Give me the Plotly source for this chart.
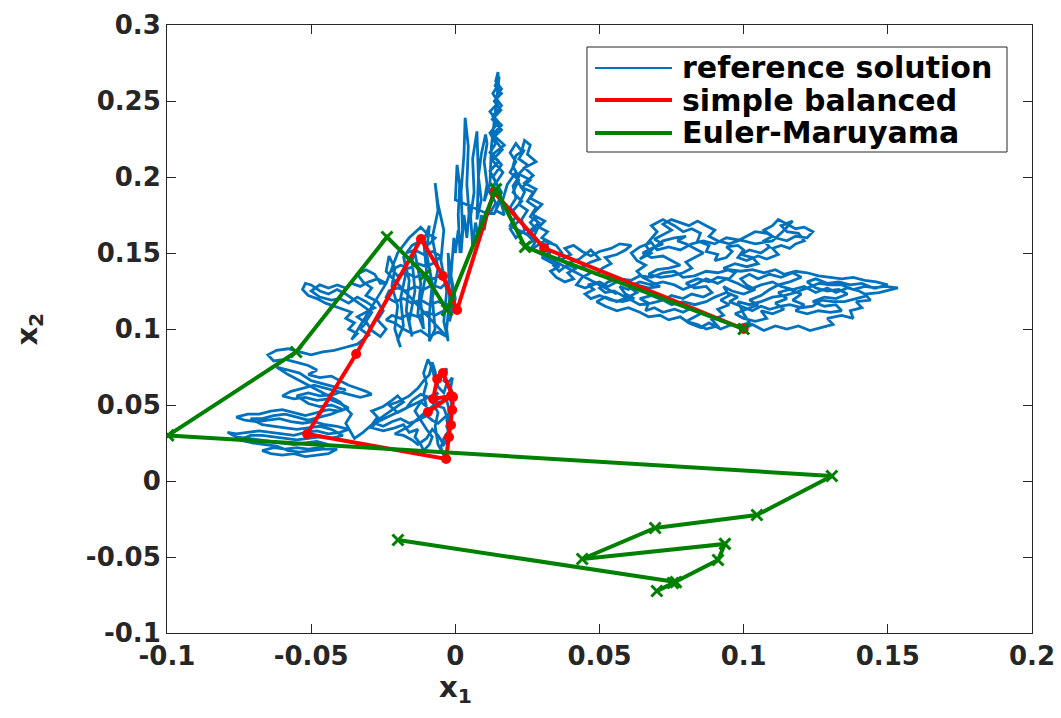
import plotly.graph_objects as go

# ---------------- data ----------------
# reference solution (fine path) as (x1, x2) pairs, stored piece by piece
ref_right_a = [
    (0.100,0.100),(0.096,0.103),(0.092,0.100),(0.088,0.104),(0.085,0.101),(0.081,0.104),(0.078,0.108),(0.074,0.106),
    (0.071,0.109),(0.067,0.108),(0.064,0.111),(0.060,0.114),(0.056,0.112),(0.052,0.115),(0.049,0.118),(0.052,0.121),
    (0.056,0.118),(0.060,0.121),(0.063,0.124),(0.060,0.128),(0.064,0.131),(0.068,0.129),(0.072,0.131),(0.076,0.129),
    (0.079,0.126),(0.083,0.129),(0.087,0.133),(0.091,0.130),(0.094,0.133),(0.098,0.130),(0.102,0.126),(0.106,0.129),
    (0.110,0.131),(0.113,0.128),(0.117,0.126),(0.121,0.128),(0.125,0.124),(0.129,0.127),(0.132,0.124),(0.136,0.127),
    (0.140,0.125),(0.143,0.122),(0.139,0.120),(0.135,0.118),(0.131,0.118),(0.127,0.119),(0.124,0.115),(0.120,0.114),
    (0.116,0.116),(0.113,0.115),(0.109,0.113),(0.106,0.115),(0.103,0.112),(0.099,0.115),(0.095,0.118),(0.098,0.121),
    (0.094,0.124),(0.090,0.121),(0.087,0.118),(0.083,0.116),(0.079,0.118),(0.075,0.116),(0.072,0.119),(0.068,0.117),
    (0.064,0.116),(0.061,0.119),(0.058,0.122),(0.055,0.125),(0.052,0.124),(0.050,0.127),(0.053,0.131),(0.057,0.133),
    (0.061,0.132),(0.064,0.135),(0.068,0.134),(0.072,0.137),(0.076,0.138),(0.079,0.134),(0.083,0.135),(0.087,0.138),
    (0.091,0.137),(0.095,0.139),(0.099,0.138),(0.103,0.139),(0.107,0.137),(0.111,0.139),(0.114,0.136),(0.118,0.138),
    (0.122,0.137),(0.126,0.135),(0.130,0.134),(0.134,0.133),(0.138,0.134),(0.142,0.132),(0.146,0.131),(0.150,0.129),
    (0.146,0.127),(0.142,0.128),(0.138,0.126),(0.134,0.129),(0.130,0.129),(0.126,0.130),(0.122,0.127),(0.118,0.124),
    (0.114,0.122),(0.110,0.121),(0.106,0.118),(0.102,0.116),(0.098,0.118),(0.100,0.110),(0.102,0.104),(0.098,0.102),
]
ref_right_b = [
    (0.100,0.100),(0.103,0.103),(0.107,0.099),(0.111,0.102),(0.115,0.100),(0.119,0.102),(0.123,0.099),(0.127,0.101),
    (0.131,0.103),(0.129,0.107),(0.134,0.109),(0.138,0.107),(0.137,0.112),(0.141,0.114),(0.139,0.118),(0.144,0.119),
    (0.142,0.123),(0.147,0.124),(0.151,0.126),(0.1535,0.127),(0.149,0.128),(0.145,0.127),(0.141,0.130),(0.137,0.129),
    (0.133,0.131),(0.129,0.130),(0.125,0.133),(0.122,0.131),(0.125,0.127),(0.129,0.125),(0.133,0.126),(0.136,0.123),
    (0.132,0.120),(0.128,0.121),(0.124,0.118),(0.128,0.115),(0.132,0.116),(0.134,0.112),(0.130,0.111),(0.126,0.112),
    (0.122,0.110),(0.118,0.112),(0.121,0.116),(0.117,0.119),(0.120,0.123),(0.116,0.126),(0.112,0.124),(0.115,0.120),
    (0.111,0.117),(0.114,0.113),(0.110,0.110),(0.106,0.112),(0.108,0.107),(0.104,0.105),(0.100,0.107),(0.097,0.110),
    (0.101,0.113),(0.105,0.116),(0.102,0.119),(0.106,0.122),(0.109,0.126),(0.112,0.129),(0.116,0.131),(0.120,0.134),
    (0.117,0.137),(0.113,0.134),(0.109,0.136),(0.105,0.133),(0.102,0.136),(0.099,0.133),(0.101,0.129),(0.104,0.126),
    (0.100,0.123),(0.096,0.125),(0.093,0.128),(0.095,0.122),(0.092,0.119),(0.095,0.116),(0.091,0.113),(0.093,0.109),
    (0.089,0.106),(0.091,0.102),(0.087,0.100),(0.084,0.103),(0.080,0.105),(0.083,0.108),(0.086,0.111),(0.082,0.114),
    (0.079,0.111),(0.076,0.113),(0.072,0.111),(0.069,0.114),(0.066,0.112),(0.067,0.117),(0.064,0.120),(0.068,0.122),
    (0.072,0.119),(0.075,0.122),(0.079,0.120),(0.082,0.123),(0.086,0.121),(0.089,0.124),(0.087,0.128),(0.083,0.127),
    (0.080,0.130),(0.084,0.133),(0.088,0.131),(0.091,0.134),(0.095,0.133),(0.097,0.137),(0.093,0.140),(0.097,0.143),
    (0.101,0.141),(0.105,0.143),(0.103,0.147),(0.099,0.149),(0.102,0.152),(0.106,0.150),(0.109,0.154),(0.107,0.158),
    (0.110,0.161),(0.107,0.165),(0.110,0.168),(0.112,0.172),(0.115,0.169),(0.118,0.166),(0.121,0.167),(0.124,0.164),
    (0.122,0.160),(0.118,0.161),(0.115,0.158),(0.111,0.160),(0.108,0.163),(0.104,0.164),(0.101,0.161),(0.098,0.158),
    (0.095,0.156),(0.091,0.158),(0.088,0.161),(0.090,0.165),(0.087,0.168),(0.084,0.171),(0.081,0.168),(0.078,0.170),
    (0.075,0.172),(0.072,0.169),(0.075,0.165),(0.072,0.162),(0.069,0.159),(0.072,0.156),(0.068,0.153),(0.065,0.150),
    (0.068,0.147),(0.072,0.148),(0.075,0.145),(0.078,0.142),(0.074,0.140),(0.070,0.139),(0.067,0.136),(0.071,0.134),
    (0.075,0.135),(0.079,0.137),(0.082,0.140),(0.080,0.144),(0.083,0.147),(0.086,0.150),(0.083,0.153),(0.080,0.156),
    (0.077,0.158),(0.080,0.161),(0.076,0.160),(0.072,0.158),
]
ref_right_c = [
    (0.064,0.146),(0.068,0.150),(0.066,0.155),(0.070,0.164),(0.068,0.168),(0.072,0.172),(0.076,0.168),(0.079,0.164),
    (0.082,0.166),(0.085,0.163),(0.084,0.158),(0.088,0.155),(0.087,0.151),(0.091,0.149),(0.090,0.145),(0.094,0.147),
    (0.096,0.151),(0.094,0.154),(0.098,0.155),(0.100,0.152),(0.098,0.147),(0.101,0.145),(0.105,0.148),(0.108,0.146),
    (0.112,0.149),(0.110,0.153),(0.113,0.155),(0.116,0.153),(0.118,0.156),(0.121,0.158),(0.119,0.163),(0.115,0.164),
    (0.113,0.168),(0.117,0.171),(0.114,0.165),(0.110,0.158),(0.104,0.156),(0.100,0.158),(0.094,0.160),(0.090,0.156),
    (0.086,0.158),(0.082,0.156),(0.078,0.152),(0.074,0.154),(0.070,0.152),(0.068,0.157),(0.064,0.154),(0.061,0.150),
    (0.063,0.145),(0.066,0.142),(0.063,0.138),(0.065,0.134),(0.068,0.131),(0.071,0.128),(0.067,0.127),(0.063,0.129),
    (0.060,0.126),(0.057,0.128),(0.059,0.123),(0.062,0.120),(0.058,0.118),(0.054,0.119),(0.050,0.122),(0.047,0.120),
    (0.045,0.123),(0.048,0.126),(0.046,0.129),(0.050,0.131),(0.053,0.128),(0.056,0.131),(0.053,0.134),(0.049,0.136),
    (0.051,0.140),(0.054,0.143),(0.052,0.147),(0.056,0.149),(0.059,0.152),(0.061,0.155),(0.057,0.156),(0.054,0.153),
    (0.050,0.151),(0.047,0.148),(0.044,0.151),(0.041,0.155),(0.038,0.153),(0.040,0.149),(0.037,0.146),(0.039,0.142),
    (0.042,0.140),(0.039,0.137),(0.041,0.133),(0.038,0.131),(0.035,0.134),(0.033,0.138),(0.036,0.141),(0.033,0.144),
    (0.030,0.147),(0.033,0.150),(0.030,0.153),(0.033,0.157),(0.030,0.160),(0.032,0.164),(0.029,0.167),(0.031,0.171),
    (0.028,0.174),(0.026,0.170),(0.028,0.166),(0.025,0.162),(0.027,0.158),(0.024,0.155),
    (0.056,0.123),(0.052,0.127),(0.049,0.130),(0.045,0.127),(0.042,0.129),(0.044,0.134),(0.047,0.137),(0.044,0.141),
    (0.047,0.144),(0.050,0.146),(0.047,0.152),(0.043,0.146),(0.040,0.144),(0.036,0.138),(0.034,0.142),(0.037,0.150),
    (0.035,0.155),(0.031,0.158),(0.026,0.152),
]
ref_spike_right = [
    (0.028,0.158),(0.025,0.163),(0.029,0.170),(0.026,0.174),(0.028,0.180),(0.025,0.184),(0.027,0.190),(0.023,0.193),
    (0.026,0.198),(0.022,0.202),(0.025,0.208),(0.022,0.212),(0.024,0.218),(0.021,0.214),(0.020,0.207),(0.022,0.200),
    (0.020,0.194),(0.021,0.186),(0.019,0.180),(0.021,0.174),(0.019,0.168),
    (0.027,0.160),(0.029,0.168),(0.027,0.176),(0.030,0.182),(0.026,0.186),(0.028,0.192),(0.024,0.196),(0.027,0.201),
    (0.024,0.206),(0.028,0.210),(0.025,0.215),(0.026,0.221),(0.024,0.224),(0.023,0.217),(0.021,0.222),(0.019,0.216),
    (0.021,0.210),(0.019,0.203),(0.022,0.198),(0.020,0.190),(0.023,0.184),(0.020,0.178),(0.022,0.171),(0.019,0.166),
    (0.021,0.160),(0.024,0.165),(0.023,0.172),(0.025,0.178),(0.022,0.182),(0.024,0.190),(0.022,0.196),(0.021,0.203),
]
ref_spikes = [
    (0.018,0.195),(0.016,0.182),(0.017,0.175),(0.014,0.178),(0.016,0.190),(0.013,0.200),(0.016,0.208),(0.013,0.215),
    (0.017,0.221),(0.013,0.228),(0.016,0.234),(0.013,0.240),(0.016,0.247),(0.014,0.252),(0.016,0.258),(0.014,0.263),
    (0.0148,0.269),(0.015,0.261),(0.013,0.255),(0.015,0.249),(0.012,0.243),(0.015,0.236),(0.012,0.229),(0.014,0.222),
    (0.012,0.216),(0.015,0.210),(0.012,0.204),(0.014,0.197),(0.012,0.190),(0.014,0.183),(0.012,0.176),
    (0.0135,0.176),(0.0160,0.186),(0.0130,0.193),(0.0165,0.203),(0.0128,0.211),(0.0163,0.218),(0.0132,0.226),
    (0.0160,0.231),(0.0128,0.238),(0.0158,0.244),(0.0135,0.250),(0.0160,0.255),(0.0138,0.260),(0.0152,0.266),
    (0.0140,0.245),(0.0125,0.220),(0.0120,0.195),(0.010,0.184),
    (0.011,0.195),(0.010,0.210),(0.011,0.222),(0.0105,0.228),(0.009,0.215),(0.008,0.200),(0.009,0.185),(0.0075,0.172),
    (0.008,0.200),(0.0075,0.230),(0.006,0.212),(0.0065,0.190),(0.005,0.170),(0.004,0.195),(0.0045,0.220),(0.0034,0.239),
    (0.003,0.215),(0.002,0.190),(0.0025,0.165),(0.0016,0.150),(0.001,0.175),(0.0015,0.195),(0.0006,0.208),(0.000,0.185),
    (0.011,0.176),(0.010,0.165),(0.009,0.175),(0.008,0.160),(0.007,0.170),(0.006,0.155),(0.005,0.182),(0.004,0.160),
    (0.003,0.175),(0.002,0.150),(0.001,0.165),(0.000,0.150),
    (-0.0005,0.160),(-0.0015,0.135),(0.000,0.120),(-0.002,0.105),(-0.001,0.128),(-0.0025,0.150),(-0.002,0.120),
    (-0.003,0.100),(-0.0025,0.092),(-0.004,0.105),(-0.003,0.125),(-0.005,0.145),(-0.004,0.165),(-0.006,0.182),
    (-0.007,0.196),(-0.006,0.178),(-0.008,0.160),(-0.006,0.140),(-0.008,0.120),(-0.007,0.100),(-0.009,0.092),
    (-0.009,0.110),(-0.008,0.130),(-0.010,0.150),(-0.009,0.168),(-0.011,0.158),(-0.010,0.138),(-0.012,0.118),
    (-0.011,0.100),(-0.013,0.110),(-0.012,0.130),(-0.014,0.150),(-0.013,0.158),(-0.015,0.145),(-0.014,0.125),
    (-0.016,0.105),(-0.015,0.095),(-0.017,0.112),(-0.016,0.132),(-0.018,0.148),(-0.017,0.138),(-0.019,0.120),
    (-0.018,0.102),(-0.020,0.093),(-0.019,0.088),(-0.021,0.100),(-0.020,0.115),(-0.022,0.128),(-0.021,0.140),
    (-0.023,0.148),(-0.024,0.138),
]
ref_left_centre = [
    (-0.003,0.095),(-0.006,0.098),(-0.009,0.095),(-0.012,0.099),(-0.015,0.097),(-0.018,0.100),(-0.021,0.104),
    (-0.024,0.106),(-0.022,0.109),(-0.019,0.107),(-0.016,0.110),(-0.013,0.108),(-0.010,0.111),(-0.007,0.109),
    (-0.004,0.112),(-0.003,0.116),(-0.006,0.118),(-0.009,0.116),(-0.012,0.119),(-0.015,0.117),(-0.018,0.120),
    (-0.021,0.118),(-0.024,0.121),(-0.023,0.125),(-0.020,0.127),(-0.017,0.125),(-0.014,0.128),(-0.011,0.126),
    (-0.008,0.129),(-0.005,0.127),(-0.003,0.131),(-0.005,0.135),(-0.008,0.133),(-0.011,0.136),(-0.014,0.134),
    (-0.017,0.137),(-0.020,0.135),(-0.022,0.139),(-0.019,0.142),(-0.016,0.140),(-0.013,0.143),(-0.010,0.141),
    (-0.007,0.144),(-0.005,0.148),(-0.008,0.151),(-0.011,0.149),(-0.014,0.152),(-0.017,0.150),(-0.015,0.155),
    (-0.012,0.158),(-0.009,0.156),(-0.007,0.160),(-0.010,0.163),(-0.012,0.167),(-0.016,0.160),(-0.020,0.150),
    (-0.024,0.130),
]
ref_upper_left = [
    (-0.026,0.130),(-0.028,0.136),(-0.031,0.139),(-0.034,0.136),(-0.032,0.131),(-0.029,0.127),(-0.031,0.122),
    (-0.027,0.118),(-0.025,0.112),(-0.027,0.106),(-0.024,0.100),(-0.026,0.095),(-0.029,0.099),(-0.031,0.105),
    (-0.029,0.111),(-0.032,0.115),(-0.035,0.119),(-0.038,0.123),(-0.041,0.126),(-0.044,0.123),(-0.047,0.125),
    (-0.050,0.129),(-0.052,0.130),(-0.053,0.126),(-0.051,0.122),(-0.048,0.120),(-0.045,0.117),(-0.042,0.115),
    (-0.039,0.113),(-0.036,0.111),(-0.038,0.107),(-0.035,0.104),(-0.037,0.100),(-0.034,0.097),(-0.036,0.093),
    (-0.024,0.130),(-0.027,0.133),(-0.030,0.131),(-0.033,0.128),(-0.036,0.130),(-0.038,0.127),(-0.041,0.129),
    (-0.044,0.127),(-0.047,0.129),(-0.050,0.125),(-0.047,0.121),(-0.043,0.119),(-0.040,0.120),(-0.037,0.117),
    (-0.034,0.121),(-0.031,0.118),(-0.028,0.114),(-0.031,0.111),(-0.034,0.108),(-0.031,0.104),(-0.033,0.100),
    (-0.030,0.096),(-0.032,0.093),
    (-0.034,0.090),(-0.038,0.088),(-0.042,0.086),(-0.046,0.085),(-0.050,0.083),
]
ref_left_lower = [
    (-0.054,0.085),(-0.058,0.087),(-0.062,0.086),(-0.065,0.083),(-0.063,0.079),(-0.059,0.080),(-0.055,0.078),
    (-0.051,0.076),(-0.048,0.073),(-0.051,0.070),(-0.047,0.068),(-0.043,0.069),(-0.040,0.066),(-0.037,0.063),
    (-0.034,0.061),(-0.031,0.059),(-0.029,0.057),(-0.033,0.055),(-0.037,0.057),(-0.041,0.059),(-0.045,0.061),
    (-0.049,0.063),(-0.053,0.061),(-0.057,0.059),(-0.060,0.056),(-0.056,0.054),(-0.052,0.055),(-0.048,0.053),
    (-0.044,0.054),(-0.040,0.051),(-0.037,0.048),(-0.040,0.046),(-0.044,0.047),(-0.048,0.045),(-0.052,0.043),
    (-0.056,0.045),(-0.060,0.047),(-0.064,0.046),(-0.068,0.044),(-0.072,0.044),(-0.076,0.042),(-0.073,0.040),
    (-0.069,0.039),(-0.065,0.040),(-0.061,0.041),(-0.057,0.039),(-0.053,0.038),(-0.049,0.039),(-0.045,0.037),
    (-0.041,0.036),(-0.037,0.034),(-0.040,0.032),(-0.044,0.031),(-0.048,0.033),(-0.052,0.032),(-0.056,0.030),
    (-0.060,0.031),(-0.064,0.032),(-0.068,0.033),(-0.072,0.032),(-0.076,0.031),(-0.079,0.032),(-0.076,0.029),
    (-0.072,0.028),(-0.068,0.027),(-0.064,0.026),(-0.060,0.025),(-0.056,0.024),(-0.052,0.025),(-0.048,0.026),
    (-0.044,0.024),(-0.047,0.022),(-0.051,0.021),(-0.055,0.022),(-0.059,0.021),(-0.063,0.022),(-0.067,0.020),
    (-0.064,0.018),(-0.060,0.017),(-0.056,0.018),(-0.052,0.016),(-0.048,0.017),(-0.044,0.018),(-0.041,0.021),
    (-0.046,0.021),(-0.050,0.020),(-0.054,0.019),(-0.058,0.020),(-0.062,0.023),(-0.066,0.024),(-0.070,0.025),
    (-0.075,0.027),(-0.071,0.030),(-0.067,0.030),(-0.063,0.029),(-0.059,0.028),(-0.055,0.027),(-0.051,0.028),
    (-0.047,0.029),(-0.043,0.028),(-0.039,0.030),(-0.043,0.034),(-0.047,0.036),(-0.051,0.035),(-0.055,0.034),
    (-0.059,0.035),(-0.063,0.036),(-0.067,0.037),(-0.071,0.041),(-0.067,0.041),(-0.063,0.043),(-0.059,0.044),
    (-0.055,0.042),(-0.051,0.040),(-0.047,0.042),(-0.043,0.044),(-0.039,0.047),(-0.043,0.050),(-0.047,0.049),
    (-0.051,0.051),(-0.055,0.056),(-0.051,0.058),(-0.047,0.056),(-0.042,0.057),(-0.038,0.060),(-0.042,0.062),
    (-0.046,0.064),(-0.050,0.066),(-0.054,0.071),(-0.058,0.073),(-0.062,0.075),(-0.058,0.070),(-0.052,0.064),
    (-0.046,0.058),(-0.040,0.052),(-0.036,0.044),(-0.038,0.038),(-0.035,0.028),(-0.032,0.032),
]
ref_lower_centre = [
    (-0.029,0.037),(-0.027,0.042),(-0.029,0.046),(-0.025,0.049),(-0.022,0.053),(-0.020,0.056),(-0.018,0.052),
    (-0.021,0.048),(-0.024,0.044),(-0.027,0.040),(-0.029,0.035),(-0.025,0.033),(-0.021,0.035),(-0.018,0.037),
    (-0.016,0.032),(-0.013,0.034),(-0.014,0.029),(-0.012,0.024),(-0.011,0.020),(-0.009,0.024),(-0.008,0.029),
    (-0.010,0.034),(-0.012,0.040),(-0.014,0.046),(-0.012,0.052),(-0.010,0.049),(-0.011,0.057),(-0.010,0.064),
    (-0.011,0.071),(-0.0095,0.080),(-0.008,0.074),(-0.007,0.066),(-0.005,0.070),(-0.003,0.074),(-0.004,0.066),
    (-0.002,0.063),(-0.001,0.058),(-0.003,0.053),(-0.002,0.046),(-0.003,0.040),(-0.002,0.034),(-0.004,0.028),
    (-0.005,0.022),(-0.004,0.017),(-0.006,0.024),(-0.007,0.036),(-0.006,0.045),(-0.008,0.052),(-0.006,0.058),
    (-0.028,0.038),(-0.025,0.036),(-0.022,0.039),(-0.019,0.041),(-0.016,0.038),(-0.013,0.040),(-0.010,0.043),
    (-0.008,0.040),(-0.006,0.038),(-0.003,0.043),(-0.004,0.048),(-0.007,0.050),(-0.009,0.055),(-0.012,0.057),
    (-0.015,0.053),(-0.017,0.048),(-0.020,0.045),(-0.023,0.050),(-0.020,0.052),(-0.016,0.056),(-0.013,0.061),
    (-0.011,0.066),(-0.009,0.070),(-0.008,0.078),(-0.007,0.072),(-0.006,0.062),(-0.004,0.058),(-0.003,0.064),
    (-0.001,0.068),(-0.002,0.057),(-0.001,0.048),(-0.003,0.036),(-0.002,0.030),(-0.004,0.024),(-0.006,0.030),
    (-0.008,0.034),(-0.010,0.028),(-0.013,0.024),(-0.015,0.027),(-0.018,0.030),(-0.021,0.031),(-0.016,0.036),
    (-0.010,0.046),(-0.006,0.052),(-0.004,0.052),
]
ref_path = (ref_right_a + ref_right_b + ref_right_c + ref_spike_right + ref_spikes + ref_left_centre
            + ref_upper_left + ref_left_lower + ref_lower_centre)
ref_x = [p[0] for p in ref_path]
ref_y = [p[1] for p in ref_path]

# simple balanced scheme
sb_x = [0.100, 0.0308, 0.0134, 0.0006, -0.0043, -0.0119, -0.0344, -0.0514, -0.0032,
        -0.0022, -0.0015, -0.0011, -0.0008, -0.0043, -0.0063, -0.0077, -0.0015, -0.0095]
sb_y = [0.100, 0.1533, 0.1900, 0.1125, 0.1349, 0.1592, 0.0836, 0.0309, 0.0145,
        0.0289, 0.0368, 0.0467, 0.0553, 0.0711, 0.0671, 0.0539, 0.0560, 0.0454]

# Euler-Maruyama scheme
em_x = [0.100, 0.0242, 0.0141, -0.0029, -0.0105, -0.0237, -0.0552, -0.0996, 0.1306,
        0.1046, 0.0693, 0.0440, 0.0935, 0.0911, 0.0755, 0.0699, 0.0765, -0.0199]
em_y = [0.100, 0.1540, 0.1920, 0.1125, 0.1355, 0.1605, 0.0849, 0.0300, 0.0033,
        -0.0224, -0.0309, -0.0513, -0.0414, -0.0520, -0.0671, -0.0724, -0.0665, -0.0388]

x_ticks = [-0.1, -0.05, 0, 0.05, 0.1, 0.15, 0.2]
x_ticklabels = ["-0.1", "-0.05", "0", "0.05", "0.1", "0.15", "0.2"]
y_ticks = [-0.1, -0.05, 0, 0.05, 0.1, 0.15, 0.2, 0.25, 0.3]
y_ticklabels = ["-0.1", "-0.05", "0", "0.05", "0.1", "0.15", "0.2", "0.25", "0.3"]

legend_names = ["reference solution", "simple balanced", "Euler-Maruyama"]

# ---------------- styles ----------------
BLUE = "#0072BD"
RED = "#FF0000"
GREEN = "#008000"
AXC = "#262626"
FONT = "DejaVu Sans"

fig = go.Figure()
fig.add_trace(go.Scatter(x=ref_x, y=ref_y, mode="lines",
                         line=dict(color=BLUE, width=2.8), name=legend_names[0]))
fig.add_trace(go.Scatter(x=sb_x, y=sb_y, mode="lines+markers",
                         line=dict(color=RED, width=4),
                         marker=dict(symbol="circle", size=10, color=RED),
                         name=legend_names[1]))
fig.add_trace(go.Scatter(x=em_x, y=em_y, mode="lines+markers",
                         line=dict(color=GREEN, width=4),
                         marker=dict(symbol="x-thin", size=11, color=GREEN,
                                     line=dict(color=GREEN, width=3)),
                         name=legend_names[2]))

# ---- custom legend (box, sample lines, markers, text) ----
lg_x0, lg_x1, lg_y0, lg_y1 = 0.4855, 0.9711, 0.7911, 0.9638
rows = [0.9293, 0.8766, 0.8224]
smp0, smp1 = 0.4948, 0.5838
colors = [BLUE, RED, GREEN]
widths = [2, 4, 4]
shapes = [dict(type="rect", xref="paper", yref="paper", x0=lg_x0, x1=lg_x1, y0=lg_y0, y1=lg_y1,
               line=dict(color=AXC, width=1), fillcolor="white", layer="above")]
for r, c, w in zip(rows, colors, widths):
    shapes.append(dict(type="line", xref="paper", yref="paper", x0=smp0, x1=smp1, y0=r, y1=r,
                       line=dict(color=c, width=w), layer="above"))
fig.add_trace(go.Scatter(x=[(smp0 + smp1) / 2], y=[rows[1]], xaxis="x2", yaxis="y2", mode="markers",
                         marker=dict(symbol="circle", size=10, color=RED), showlegend=False,
                         cliponaxis=False))
fig.add_trace(go.Scatter(x=[(smp0 + smp1) / 2], y=[rows[2]], xaxis="x2", yaxis="y2", mode="markers",
                         marker=dict(symbol="x-thin", size=11, color=GREEN, line=dict(color=GREEN, width=3)),
                         showlegend=False, cliponaxis=False))
annotations = []
for r, name in zip(rows, legend_names):
    annotations.append(dict(xref="paper", yref="paper", x=0.5931, y=r, text=name, showarrow=False,
                            xanchor="left", yanchor="middle",
                            font=dict(family=FONT, size=30, color="black", weight="bold")))
# axis labels
annotations.append(dict(xref="paper", yref="paper", x=0.333, y=0, yshift=-56, text="x<sub>1</sub>",
                        showarrow=False, xanchor="center", yanchor="middle",
                        font=dict(family=FONT, size=29, color=AXC, weight="bold")))
annotations.append(dict(xref="paper", yref="paper", x=-0.160, y=0.5, text="x<sub>2</sub>", textangle=-90,
                        showarrow=False, xanchor="center", yanchor="middle",
                        font=dict(family=FONT, size=29, color=AXC, weight="bold")))

tickfont = dict(family=FONT, size=26, color=AXC, weight="bold")
fig.update_layout(
    width=1061, height=718,
    margin=dict(l=167, r=29, t=25, b=85),
    plot_bgcolor="white", paper_bgcolor="white",
    showlegend=False,
    shapes=shapes, annotations=annotations,
    xaxis=dict(range=[-0.1, 0.2], tickvals=x_ticks, ticktext=x_ticklabels, ticks="inside", ticklen=9,
               tickcolor=AXC, showline=True, linecolor=AXC, linewidth=1, mirror="ticks",
               showgrid=False, zeroline=False, tickfont=tickfont, automargin=False),
    yaxis=dict(range=[-0.1, 0.3], tickvals=y_ticks, ticktext=y_ticklabels, ticks="inside", ticklen=9,
               tickcolor=AXC, showline=True, linecolor=AXC, linewidth=1, mirror="ticks",
               showgrid=False, zeroline=False, tickfont=tickfont, automargin=False),
    xaxis2=dict(range=[0, 1], overlaying="x", visible=False, fixedrange=True, automargin=False),
    yaxis2=dict(range=[0, 1], overlaying="y", visible=False, fixedrange=True, automargin=False),
)

fig.write_html("out.html")
